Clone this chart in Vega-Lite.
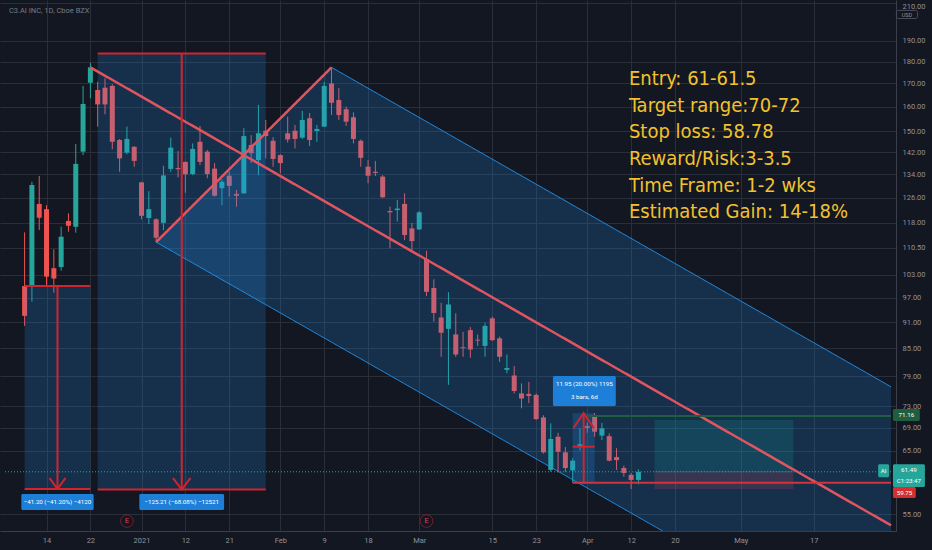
{
  "$schema": "https://vega.github.io/schema/vega-lite/v6.json",
  "width": 896,
  "height": 531,
  "padding": {"left": 0, "top": 0, "right": 36, "bottom": 19},
  "autosize": {"type": "none"},
  "background": "#131722",
  "config": {
    "view": {"stroke": null},
    "axis": {"labelFont": "Roboto", "labelFontSize": 7.5, "labelColor": "#8f929b", "gridColor": "#2a2e39", "domainColor": "#3a3e4a", "ticks": false}
  },
  "datasets": {
    "candles": [
      {"d":"2020-12-09","i":-3,"o":100.0,"h":115.1,"l":90.1,"c":92.5},
      {"d":"2020-12-10","i":-2,"o":99.8,"h":131.4,"l":96.0,"c":130.3},
      {"d":"2020-12-11","i":-1,"o":124.0,"h":133.4,"l":115.8,"c":119.6},
      {"d":"2020-12-14","i":0,"o":122.3,"h":123.6,"l":100.3,"c":102.5},
      {"d":"2020-12-15","i":1,"o":104.8,"h":110.1,"l":98.3,"c":102.0},
      {"d":"2020-12-16","i":2,"o":105.1,"h":116.8,"l":104.1,"c":113.8},
      {"d":"2020-12-17","i":3,"o":118.6,"h":121.0,"l":115.3,"c":117.1},
      {"d":"2020-12-18","i":4,"o":116.8,"h":145.1,"l":115.0,"c":137.7},
      {"d":"2020-12-21","i":5,"o":142.2,"h":168.9,"l":140.9,"c":161.1},
      {"d":"2020-12-22","i":6,"o":170.3,"h":179.5,"l":163.5,"c":177.3},
      {"d":"2020-12-23","i":7,"o":167.1,"h":170.7,"l":151.8,"c":160.9},
      {"d":"2020-12-24","i":8,"o":168.1,"h":172.3,"l":156.8,"c":160.9},
      {"d":"2020-12-28","i":9,"o":168.9,"h":169.6,"l":143.1,"c":145.9},
      {"d":"2020-12-29","i":10,"o":146.6,"h":147.0,"l":134.9,"c":139.7},
      {"d":"2020-12-30","i":11,"o":141.8,"h":151.8,"l":141.2,"c":147.0},
      {"d":"2020-12-31","i":12,"o":144.0,"h":144.3,"l":136.7,"c":138.8},
      {"d":"2021-01-04","i":13,"o":131.2,"h":131.4,"l":119.1,"c":120.2},
      {"d":"2021-01-05","i":14,"o":119.5,"h":128.2,"l":117.6,"c":122.3},
      {"d":"2021-01-06","i":15,"o":119.1,"h":119.4,"l":112.2,"c":113.5},
      {"d":"2021-01-07","i":16,"o":118.0,"h":137.0,"l":115.8,"c":133.6},
      {"d":"2021-01-08","i":17,"o":135.9,"h":147.5,"l":134.9,"c":143.7},
      {"d":"2021-01-11","i":18,"o":136.2,"h":142.4,"l":132.9,"c":135.8},
      {"d":"2021-01-12","i":19,"o":138.4,"h":138.6,"l":127.7,"c":134.0},
      {"d":"2021-01-13","i":20,"o":134.1,"h":145.3,"l":133.7,"c":143.2},
      {"d":"2021-01-14","i":21,"o":145.9,"h":152.1,"l":137.3,"c":138.4},
      {"d":"2021-01-15","i":22,"o":142.2,"h":142.8,"l":132.6,"c":134.1},
      {"d":"2021-01-19","i":23,"o":136.0,"h":138.0,"l":126.4,"c":126.7},
      {"d":"2021-01-20","i":24,"o":129.2,"h":132.2,"l":123.6,"c":131.4},
      {"d":"2021-01-21","i":25,"o":133.5,"h":134.9,"l":126.4,"c":130.0},
      {"d":"2021-01-22","i":26,"o":127.3,"h":128.6,"l":123.1,"c":126.7},
      {"d":"2021-01-25","i":27,"o":127.5,"h":151.2,"l":127.3,"c":148.1},
      {"d":"2021-01-26","i":28,"o":144.7,"h":148.5,"l":138.0,"c":141.6},
      {"d":"2021-01-27","i":29,"o":139.1,"h":160.7,"l":133.7,"c":149.2},
      {"d":"2021-01-28","i":30,"o":150.2,"h":154.5,"l":139.7,"c":148.1},
      {"d":"2021-01-29","i":31,"o":146.3,"h":147.7,"l":136.7,"c":139.5},
      {"d":"2021-02-01","i":32,"o":140.9,"h":141.2,"l":134.3,"c":138.0},
      {"d":"2021-02-02","i":33,"o":149.2,"h":155.8,"l":145.6,"c":146.8},
      {"d":"2021-02-03","i":34,"o":150.2,"h":152.5,"l":143.4,"c":147.0},
      {"d":"2021-02-04","i":35,"o":147.5,"h":158.2,"l":147.0,"c":154.5},
      {"d":"2021-02-05","i":36,"o":155.2,"h":157.3,"l":144.3,"c":146.6},
      {"d":"2021-02-08","i":37,"o":150.1,"h":152.5,"l":145.9,"c":150.9},
      {"d":"2021-02-09","i":38,"o":151.8,"h":170.7,"l":151.8,"c":168.9},
      {"d":"2021-02-10","i":39,"o":170.0,"h":177.3,"l":156.5,"c":161.6},
      {"d":"2021-02-11","i":40,"o":162.8,"h":167.9,"l":154.5,"c":156.5},
      {"d":"2021-02-12","i":41,"o":158.9,"h":160.0,"l":152.1,"c":153.8},
      {"d":"2021-02-16","i":42,"o":155.6,"h":157.6,"l":145.3,"c":147.0},
      {"d":"2021-02-17","i":43,"o":146.3,"h":146.8,"l":136.7,"c":139.9},
      {"d":"2021-02-18","i":44,"o":136.7,"h":139.1,"l":130.9,"c":133.5},
      {"d":"2021-02-19","i":45,"o":134.9,"h":138.8,"l":133.4,"c":134.5},
      {"d":"2021-02-22","i":46,"o":133.2,"h":133.7,"l":125.9,"c":126.2},
      {"d":"2021-02-23","i":47,"o":121.7,"h":123.1,"l":110.4,"c":121.3},
      {"d":"2021-02-24","i":48,"o":122.0,"h":125.3,"l":118.4,"c":122.5},
      {"d":"2021-02-25","i":49,"o":124.0,"h":127.5,"l":112.8,"c":114.3},
      {"d":"2021-02-26","i":50,"o":116.3,"h":118.0,"l":109.9,"c":112.5},
      {"d":"2021-03-01","i":51,"o":116.0,"h":121.7,"l":115.8,"c":121.3},
      {"d":"2021-03-02","i":52,"o":107.3,"h":109.7,"l":97.4,"c":98.5},
      {"d":"2021-03-03","i":53,"o":99.5,"h":101.8,"l":91.1,"c":93.2},
      {"d":"2021-03-04","i":54,"o":92.1,"h":95.7,"l":83.1,"c":88.5},
      {"d":"2021-03-05","i":55,"o":89.4,"h":98.4,"l":77.2,"c":95.3},
      {"d":"2021-03-08","i":56,"o":88.1,"h":93.1,"l":83.1,"c":83.6},
      {"d":"2021-03-09","i":57,"o":85.2,"h":88.7,"l":83.1,"c":85.0},
      {"d":"2021-03-10","i":58,"o":89.1,"h":89.8,"l":82.9,"c":84.7},
      {"d":"2021-03-11","i":59,"o":86.9,"h":88.1,"l":85.5,"c":86.7},
      {"d":"2021-03-12","i":60,"o":85.5,"h":90.8,"l":83.1,"c":90.1},
      {"d":"2021-03-15","i":61,"o":91.9,"h":92.3,"l":86.6,"c":86.8},
      {"d":"2021-03-16","i":62,"o":87.2,"h":87.6,"l":82.0,"c":83.1},
      {"d":"2021-03-17","i":63,"o":80.3,"h":83.6,"l":79.6,"c":80.7},
      {"d":"2021-03-18","i":64,"o":79.1,"h":81.1,"l":75.5,"c":76.0},
      {"d":"2021-03-19","i":65,"o":75.5,"h":77.5,"l":72.6,"c":74.5},
      {"d":"2021-03-22","i":66,"o":75.4,"h":77.8,"l":73.6,"c":75.0},
      {"d":"2021-03-23","i":67,"o":75.2,"h":75.5,"l":70.4,"c":70.6},
      {"d":"2021-03-24","i":68,"o":70.9,"h":71.3,"l":64.5,"c":64.7},
      {"d":"2021-03-25","i":69,"o":61.8,"h":69.8,"l":61.5,"c":67.0},
      {"d":"2021-03-26","i":70,"o":67.4,"h":68.1,"l":61.4,"c":64.8},
      {"d":"2021-03-29","i":71,"o":64.7,"h":65.6,"l":61.5,"c":62.1},
      {"d":"2021-03-30","i":72,"o":61.7,"h":63.7,"l":59.75,"c":63.3},
      {"d":"2021-03-31","i":73,"o":65.8,"h":68.9,"l":65.0,"c":66.1},
      {"d":"2021-04-01","i":74,"o":69.3,"h":69.9,"l":68.1,"c":69.0},
      {"d":"2021-04-05","i":75,"o":71.0,"h":71.7,"l":67.4,"c":68.3},
      {"d":"2021-04-06","i":76,"o":67.6,"h":69.9,"l":66.8,"c":68.9},
      {"d":"2021-04-07","i":77,"o":67.5,"h":68.0,"l":63.2,"c":63.3},
      {"d":"2021-04-08","i":78,"o":63.9,"h":65.4,"l":61.8,"c":63.4},
      {"d":"2021-04-09","i":79,"o":62.1,"h":62.5,"l":60.7,"c":61.3},
      {"d":"2021-04-12","i":80,"o":61.0,"h":61.3,"l":58.78,"c":60.2},
      {"d":"2021-04-13","i":81,"o":60.2,"h":61.9,"l":59.5,"c":61.49}
    ],
    "zones": [
      {"kind":"range","x1":-3,"x2":6,"p1":100.0,"p2":58.8},
      {"kind":"range","x1":7,"x2":30,"p1":183.9,"p2":58.69},
      {"kind":"range","x1":72,"x2":75,"p1":71.7,"p2":59.75},
      {"kind":"profit","x1":83.2,"x2":102.2,"p1":70.4,"p2":61.5},
      {"kind":"loss","x1":83.2,"x2":102.2,"p1":61.5,"p2":58.78}
    ],
    "channel": [
      {"i":15,"up":112.2,"lo":112.2},
      {"i":39,"up":177.3,"lo":86.4},
      {"i":115.56,"up":76.82,"lo":37.44}
    ],
    "lines": [
      {"id":"trendA","kind":"trend","k":0,"i":6,"p":177.3},
      {"id":"trendA","kind":"trend","k":1,"i":115.56,"p":53.45},
      {"id":"trendB","kind":"trend","k":0,"i":15,"p":112.2},
      {"id":"trendB","kind":"trend","k":1,"i":39,"p":177.3},
      {"id":"chanU","kind":"chan","k":0,"i":39,"p":177.3},
      {"id":"chanU","kind":"chan","k":1,"i":115.56,"p":76.82},
      {"id":"chanL","kind":"chan","k":0,"i":15,"p":112.2},
      {"id":"chanL","kind":"chan","k":1,"i":115.56,"p":37.44},
      {"id":"b1t","kind":"box","k":0,"i":-3,"p":100.0},
      {"id":"b1t","kind":"box","k":1,"i":6,"p":100.0},
      {"id":"b1b","kind":"box","k":0,"i":-3,"p":58.8},
      {"id":"b1b","kind":"box","k":1,"i":6,"p":58.8},
      {"id":"b1a","kind":"box","k":0,"i":1.5,"p":100.0},
      {"id":"b1a","kind":"box","k":1,"i":1.5,"p":58.8},
      {"id":"b1h","kind":"box","k":0,"i":0.4,"p":60.5},
      {"id":"b1h","kind":"box","k":1,"i":1.5,"p":58.8},
      {"id":"b1h","kind":"box","k":2,"i":2.6,"p":60.5},
      {"id":"b2t","kind":"box","k":0,"i":7,"p":183.9},
      {"id":"b2t","kind":"box","k":1,"i":30,"p":183.9},
      {"id":"b2b","kind":"box","k":0,"i":7,"p":58.69},
      {"id":"b2b","kind":"box","k":1,"i":30,"p":58.69},
      {"id":"b2a","kind":"box","k":0,"i":18.5,"p":183.9},
      {"id":"b2a","kind":"box","k":1,"i":18.5,"p":58.69},
      {"id":"b2h","kind":"box","k":0,"i":17.3,"p":60.5},
      {"id":"b2h","kind":"box","k":1,"i":18.5,"p":58.69},
      {"id":"b2h","kind":"box","k":2,"i":19.7,"p":60.5},
      {"id":"ma","kind":"box","k":0,"i":73.5,"p":59.75},
      {"id":"ma","kind":"box","k":1,"i":73.5,"p":71.7},
      {"id":"mh","kind":"box","k":0,"i":72.1,"p":68.95},
      {"id":"mh","kind":"box","k":1,"i":73.5,"p":71.7},
      {"id":"mh","kind":"box","k":2,"i":74.9,"p":68.95},
      {"id":"mx","kind":"box","k":0,"i":72,"p":65.66},
      {"id":"mx","kind":"box","k":1,"i":75,"p":65.66},
      {"id":"stop","kind":"stop","k":0,"i":72,"p":59.75},
      {"id":"stop","kind":"stop","k":1,"i":115.56,"p":59.75},
      {"id":"target","kind":"target","k":0,"i":74,"p":71.16},
      {"id":"target","kind":"target","k":1,"i":115.56,"p":71.16},
      {"id":"entry","kind":"entry","k":0,"i":83.2,"p":61.5},
      {"id":"entry","kind":"entry","k":1,"i":102.2,"p":61.5},
      {"id":"last","kind":"last","k":0,"i":-5.683,"p":61.49},
      {"id":"last","kind":"last","k":1,"i":115.56,"p":61.49}
    ],
    "tags": [
      {"kind":"blue","x1":-3.45,"x2":6.45,"p1":58.0,"p2":55.65},
      {"kind":"blue","x1":12.7,"x2":24.3,"p1":58.0,"p2":55.65},
      {"kind":"blue","x1":69.3,"x2":77.9,"p1":79.0,"p2":73.06},
      {"kind":"green","x1":115.83,"x2":119.5,"p1":72.47,"p2":70.23},
      {"kind":"teal","x1":115.83,"x2":120.2,"p1":62.73,"p2":59.08},
      {"kind":"teal","x1":113.8,"x2":115.3,"p1":62.73,"p2":60.62},
      {"kind":"red","x1":115.83,"x2":118.95,"p1":59.08,"p2":57.4}
    ],
    "tagtext": [
      {"t":"−41.20 (−41.20%) −4120","i":1.5,"p":56.8},
      {"t":"−125.21 (−68.08%) −12521","i":18.5,"p":56.8},
      {"t":"11.95 (20.00%) 1195","i":73.6,"p":77.36},
      {"t":"3 bars, 6d","i":73.6,"p":74.77},
      {"t":"71.16","i":117.66,"p":71.3},
      {"t":"61.49","i":118.0,"p":61.75},
      {"t":"C1:23:47","i":118.0,"p":60.03},
      {"t":"AI","i":114.55,"p":61.65},
      {"t":"59.75","i":117.4,"p":58.23}
    ],
    "earnings": [
      {"i":11,"p":54.05,"t":"E"},
      {"i":52,"p":54.05,"t":"E"}
    ],
    "notes": [
      {"t":"Entry: 61-61.5","i":79.7,"p":169.3},
      {"t":"Target range:70-72","i":79.7,"p":157.9},
      {"t":"Stop loss: 58.78","i":79.7,"p":147.3},
      {"t":"Reward/Risk:3-3.5","i":79.7,"p":137.3},
      {"t":"Time Frame: 1-2 wks","i":79.7,"p":128.0},
      {"t":"Estimated Gain: 14-18%","i":79.7,"p":119.4}
    ],
    "header": [
      {"t":"C3.AI INC, 1D, Cboe BZX","i":-5.15,"p":205.5}
    ],
    "currency": [
      {"t":"USD","i":117.75,"p":203.6,"x1":116.3,"x2":119.2,"p1":205.8,"p2":201.5}
    ]
  },
  "layer": [
    {
      "data": {"name": "candles"},
      "mark": {"type": "rule", "strokeWidth": 1},
      "encoding": {
        "x": {"field": "i", "type": "quantitative", "title": null,
          "scale": {"domain": [-5.683, 115.56], "nice": false, "zero": false},
          "axis": {"orient": "bottom", "title": null, "values": [0,6,13,19,25,32,38,44,51,61,67,74,80,86,95,105], "grid": true, "labelPadding": 5, "labelExpr": "datum.value==0?'14':datum.value==6?'22':datum.value==13?'2021':datum.value==19?'12':datum.value==25?'21':datum.value==32?'Feb':datum.value==38?'9':datum.value==44?'18':datum.value==51?'Mar':datum.value==61?'15':datum.value==67?'23':datum.value==74?'Apr':datum.value==80?'12':datum.value==86?'20':datum.value==95?'May':datum.value==105?'17':''"}},
        "y": {"field": "l", "type": "quantitative", "title": null,
          "scale": {"type": "log", "domain": [52.66, 211.5], "nice": false},
          "axis": {"orient": "right", "title": null, "values": [55,65,69,73,79,85,91,97,103,110.5,118,126,134,142,150,160,170,180,190,210], "format": ".2f", "grid": true, "labelPadding": 6, "labelFlush": 6}},
        "y2": {"field": "h"},
        "color": {"condition": {"test": "datum.c >= datum.o", "value": "#26a69a"}, "value": "#ef5350"}
      }
    },
    {
      "data": {"name": "candles"},
      "mark": {"type": "bar", "size": 5},
      "encoding": {
        "x": {"field": "i", "type": "quantitative", "title": null},
        "y": {"field": "o", "type": "quantitative", "title": null},
        "y2": {"field": "c"},
        "color": {"condition": {"test": "datum.c >= datum.o", "value": "#26a69a"}, "value": "#ef5350"}
      }
    },
    {
      "data": {"name": "zones"},
      "mark": {"type": "rect", "opacity": 0.2},
      "encoding": {
        "x": {"field": "x1", "type": "quantitative", "title": null},
        "x2": {"field": "x2"},
        "y": {"field": "p1", "type": "quantitative", "title": null},
        "y2": {"field": "p2"},
        "color": {"condition": [{"test": "datum.kind=='profit'", "value": "#089981"}, {"test": "datum.kind=='loss'", "value": "#f23645"}], "value": "#2196f3"}
      }
    },
    {
      "data": {"name": "channel"},
      "mark": {"type": "area", "opacity": 0.2, "color": "#2196f3", "clip": true},
      "encoding": {
        "x": {"field": "i", "type": "quantitative", "title": null},
        "y": {"field": "up", "type": "quantitative", "title": null},
        "y2": {"field": "lo"}
      }
    },
    {
      "data": {"name": "lines"},
      "mark": {"type": "line", "clip": true},
      "encoding": {
        "x": {"field": "i", "type": "quantitative", "title": null},
        "y": {"field": "p", "type": "quantitative", "title": null},
        "detail": {"field": "id"},
        "order": {"field": "k"},
        "color": {"condition": [
          {"test": "datum.kind=='trend'", "value": "#e0555f"},
          {"test": "datum.kind=='chan'", "value": "#2196f3"},
          {"test": "datum.kind=='box'", "value": "#d1242e"},
          {"test": "datum.kind=='stop'", "value": "#d2343f"},
          {"test": "datum.kind=='target'", "value": "#1f5e3f"},
          {"test": "datum.kind=='last'", "value": "#26a69a"}], "value": "#4a5a7a"},
        "strokeWidth": {"condition": [
          {"test": "datum.kind=='trend'", "value": 2.5},
          {"test": "datum.kind=='box' || datum.kind=='stop' || datum.kind=='target'", "value": 2}], "value": 1},
        "strokeDash": {"condition": {"test": "datum.kind=='last'", "value": [1, 2]}, "value": [1, 0]}
      }
    },
    {
      "data": {"name": "tags"},
      "mark": {"type": "rect", "cornerRadius": 1.5},
      "encoding": {
        "x": {"field": "x1", "type": "quantitative", "title": null},
        "x2": {"field": "x2"},
        "y": {"field": "p1", "type": "quantitative", "title": null},
        "y2": {"field": "p2"},
        "color": {"condition": [
          {"test": "datum.kind=='green'", "value": "#1f5e3f"},
          {"test": "datum.kind=='teal'", "value": "#26a69a"},
          {"test": "datum.kind=='red'", "value": "#d32f2f"}], "value": "#1e7fd8"}
      }
    },
    {
      "data": {"name": "tagtext"},
      "mark": {"type": "text", "font": "Roboto", "fontSize": 6.2, "color": "#ffffff", "align": "center", "baseline": "middle"},
      "encoding": {
        "x": {"field": "i", "type": "quantitative", "title": null},
        "y": {"field": "p", "type": "quantitative", "title": null},
        "text": {"field": "t"}
      }
    },
    {
      "data": {"name": "currency"},
      "mark": {"type": "rect", "cornerRadius": 2, "filled": false, "stroke": "#4a4e5a", "strokeWidth": 1},
      "encoding": {
        "x": {"field": "x1", "type": "quantitative", "title": null},
        "x2": {"field": "x2"},
        "y": {"field": "p1", "type": "quantitative", "title": null},
        "y2": {"field": "p2"}
      }
    },
    {
      "data": {"name": "currency"},
      "mark": {"type": "text", "font": "Roboto", "fontSize": 5.5, "color": "#8f929b", "align": "center", "baseline": "middle"},
      "encoding": {
        "x": {"field": "i", "type": "quantitative", "title": null},
        "y": {"field": "p", "type": "quantitative", "title": null},
        "text": {"field": "t"}
      }
    },
    {
      "data": {"name": "earnings"},
      "mark": {"type": "point", "shape": "circle", "size": 160, "filled": false, "strokeWidth": 1, "color": "#9a2432"},
      "encoding": {
        "x": {"field": "i", "type": "quantitative", "title": null},
        "y": {"field": "p", "type": "quantitative", "title": null}
      }
    },
    {
      "data": {"name": "earnings"},
      "mark": {"type": "text", "font": "Roboto", "fontSize": 7, "color": "#e0455a", "align": "center", "baseline": "middle"},
      "encoding": {
        "x": {"field": "i", "type": "quantitative", "title": null},
        "y": {"field": "p", "type": "quantitative", "title": null},
        "text": {"field": "t"}
      }
    },
    {
      "data": {"name": "notes"},
      "mark": {"type": "text", "font": "Liberation Sans Narrow, DejaVu Sans Condensed, sans-serif", "fontSize": 20, "color": "#f2c12e", "align": "left", "baseline": "alphabetic"},
      "encoding": {
        "x": {"field": "i", "type": "quantitative", "title": null},
        "y": {"field": "p", "type": "quantitative", "title": null},
        "text": {"field": "t"}
      }
    },
    {
      "data": {"name": "header"},
      "mark": {"type": "text", "font": "Roboto", "fontSize": 7.5, "color": "#787b86", "align": "left", "baseline": "middle"},
      "encoding": {
        "x": {"field": "i", "type": "quantitative", "title": null},
        "y": {"field": "p", "type": "quantitative", "title": null},
        "text": {"field": "t"}
      }
    }
  ]
}
